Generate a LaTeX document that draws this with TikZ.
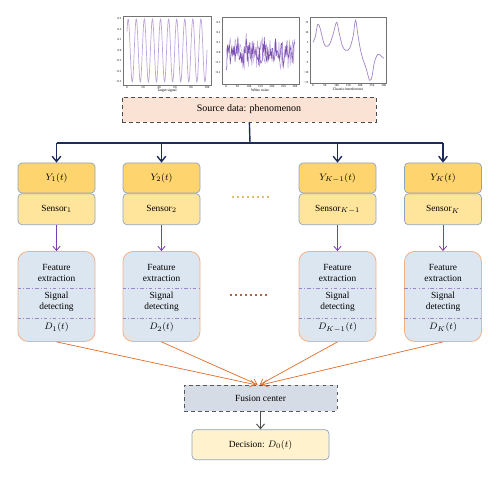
\documentclass[tikz,border=0pt]{standalone}
\usepackage{amsmath}
\usepackage{fontspec}
\setmainfont{Liberation Serif}
\usepackage{tikz}
\usetikzlibrary{positioning}
\usetikzlibrary{arrows.meta}

\definecolor{srcfill}{HTML}{FAE3D5}
\definecolor{obsfill}{HTML}{FDD46E}
\definecolor{senfill}{HTML}{FFE59C}
\definecolor{boxline}{HTML}{8FA3BF}
\definecolor{detfill}{HTML}{DCE6F1}
\definecolor{detline}{HTML}{F4B183}
\definecolor{fusfill}{HTML}{D6DCE5}
\definecolor{decfill}{HTML}{FFF2CC}
\definecolor{navy}{HTML}{1F2A5C}
\definecolor{violet-a}{HTML}{7A3FB0}
\definecolor{rust}{HTML}{E06C2A}
\definecolor{sepline}{HTML}{9A86C8}
\definecolor{plotlight}{HTML}{BDA5DC}
\definecolor{plotdark}{HTML}{7A4FB0}
\definecolor{dotgold}{HTML}{D9A441}
\definecolor{dotbrown}{HTML}{8B2A10}

\begin{document}
\begin{tikzpicture}
[
x=0.3mm, y=-0.3mm,
font=\fontsize{8}{9.2}\selectfont,
src-a/.style={draw=black!70, dashed, line width=0.6pt, fill=srcfill, minimum width=76.2mm, minimum height=7.5mm, font=\fontsize{8.5}{10}\selectfont},
obs-a/.style={draw=boxline, line width=0.6pt, fill=obsfill, rounded corners=1.2mm, minimum width=23.1mm, minimum height=9mm},
sen-a/.style={draw=boxline, line width=0.6pt, fill=senfill, rounded corners=1.2mm, minimum width=23.1mm, minimum height=9.3mm},
det-a/.style={draw=detline, line width=0.7pt, fill=detfill, rounded corners=3mm, minimum width=23.1mm, minimum height=27mm},
fus-a/.style={draw=black!65, dashed, line width=0.6pt, fill=fusfill, minimum width=45.9mm, minimum height=7.8mm},
dec-a/.style={draw=boxline, line width=0.6pt, fill=decfill, rounded corners=1.2mm, minimum width=41.1mm, minimum height=9mm},
text-a/.style={black, align=center, inner sep=0pt},
sep-a/.style={sepline, line width=0.5pt, dash dot},
top-a/.style={navy, line width=1.2pt},
frame-a/.style={black!55, line width=0.4pt},
tick-a/.style={font=\fontsize{2.6}{3}\selectfont, inner sep=0.3pt},
axis-a/.style={font=\fontsize{3.2}{3.6}\selectfont, inner sep=0pt},
dots-a/.style={line width=0.7mm, line cap=round, dash pattern=on 0pt off 1.5mm},
]
\useasboundingbox (0,0) rectangle (500,477);

% small plots of the source data
\draw [frame-a] (123,16) rectangle (211,85);
\foreach \v/\lab in {0.3/0.3, 0.2/0.2, 0.1/0.1, 0/0.0, -0.1/−0.1, -0.2/−0.2, -0.3/−0.3}
  \node [tick-a, anchor=east] at (122,{50.5-105*\v}) {\lab};
\foreach \v in {0,20,...,100}
  \node [tick-a, anchor=north] at ({127+0.8*\v},86) {\v};
\draw [plotlight, line width=0.6pt] plot[domain=0:100, samples=300, variable=\t] ({127+0.8*\t},{50.5-31.5*sin(37+35.64*\t)});
\node (p1) [axis-a] at (167,91) {Target signal};

\draw [frame-a] (222,17) rectangle (299,84);
\foreach \v/\lab in {0.3/0.3, 0.2/0.2, 0.1/0.1, 0/0.0, -0.1/−0.1, -0.2/−0.2}
  \node [tick-a, anchor=east] at (221,{53-100*\v}) {\lab};
\foreach \v in {0,50,...,300}
  \node [tick-a, anchor=north] at ({226+0.23*\v},85) {\v};
\pgfmathsetseed{11}
\draw [plotlight, line width=0.45pt] plot[domain=0:300, samples=100, variable=\t] ({226+0.23*\t},{53-14*rand-13*rand^3});
\pgfmathsetseed{5}
\draw [plotdark, line width=0.45pt] plot[domain=0:300, samples=100, variable=\t] ({226+0.23*\t},{53-11*rand-10*rand^3});
\node (p2) [axis-a] at (260,90) {White noise};

\draw [frame-a] (310,17) rectangle (386,83);
\foreach \v/\lab in {15/15, 10/10, 5/5, 0/0, -5/−5, -10/−10, -15/−15}
  \node [tick-a, anchor=east] at (309,{52.3-2*\v}) {\lab};
\foreach \v in {0,50,...,300}
  \node [tick-a, anchor=north] at ({313+0.236*\v},84) {\v};
\draw [plotdark!70, line width=0.6pt] plot[smooth, tension=0.6] coordinates {
  (313,42.3) (315.4,36.3) (317.7,24.3) (320.1,28.3) (323.6,42.3) (326,46.3)
  (329.5,44.3) (333.1,34.3) (336.6,22.3) (339,32.3) (342.5,46.3) (346,50.3)
  (349.6,48.3) (353.1,36.3) (355.5,20.3) (357.8,34.3) (360.2,48.3) (362.6,58.3)
  (366.1,68.3) (369.6,80.3) (372,76.3) (374.4,62.3) (377.9,54.3) (381.4,56.3) (383.8,58.3)};
\node (p3) [axis-a] at (348,89) {Chaotic interference};

% source and sensors
\node (src) [src-a] at (249,109.5) {Source data: phenomenon};

\node (y1) [obs-a] at (56.5,178)  {$Y_1(t)$};
\node (s1) [sen-a, below = 0mm of y1] {Sensor$_1$};
\node (y2) [obs-a] at (161.5,178) {$Y_2(t)$};
\node (s2) [sen-a, below = 0mm of y2] {Sensor$_2$};
\node (y3) [obs-a] at (337.5,178) {$Y_{K-1}(t)$};
\node (s3) [sen-a, below = 0mm of y3] {Sensor$_{K-1}$};
\node (y4) [obs-a] at (443,178)   {$Y_K(t)$};
\node (s4) [sen-a, below = 0mm of y4] {Sensor$_K$};

\coordinate (j0) at (250,143);
\coordinate (j1) at (56.5,143);
\coordinate (j4) at (443,143);
\draw [top-a] (src) -- (j0);
\draw [top-a] (j1) -- (j4);
\draw [top-a, -{Straight Barb[length=1.6mm, width=2.6mm]}] (j1) -- (y1);
\draw [top-a, -{Straight Barb[length=1.6mm, width=2.6mm]}] (j1 -| y2) -- (y2);
\draw [top-a, -{Straight Barb[length=1.6mm, width=2.6mm]}] (j1 -| y3) -- (y3);
\draw [top-a, -{Straight Barb[length=1.6mm, width=2.6mm]}] (j4) -- (y4);

% detectors
\node (f1) [det-a, below = 7.8mm of s1] {};
\node (f2) [det-a, below = 7.8mm of s2] {};
\node (f3) [det-a, below = 7.8mm of s3] {};
\node (f4) [det-a, below = 7.8mm of s4] {};
\foreach \i/\dl in {1/{D_1(t)}, 2/{D_2(t)}, 3/{D_{K-1}(t)}, 4/{D_K(t)}}
{
  \node (e\i) [text-a] at ([yshift=-6.6mm]f\i.north) {Feature\\extraction};
  \node (g\i) [text-a] at ([yshift=-15.1mm]f\i.north) {Signal\\detecting};
  \node (d\i) [text-a] at ([yshift=4.3mm]f\i.south) {$\dl$};
  \draw [sep-a] ([yshift=-11.1mm]f\i.north west) -- ([yshift=-11.1mm]f\i.north east);
  \draw [sep-a] ([yshift=-20.1mm]f\i.north west) -- ([yshift=-20.1mm]f\i.north east);
  \draw [violet-a, line width=0.7pt, -{Straight Barb[length=1.3mm, width=2.2mm]}] (s\i) -- (f\i);
}

\coordinate (k1) at (233,197);
\coordinate (k2) at (271,197);
\coordinate (k3) at (231,295);
\coordinate (k4) at (269,295);
\draw [dotgold, dots-a] (k1) -- (k2);
\draw [dotbrown, dots-a] (k3) -- (k4);

% fusion
\node (fc) [fus-a] at (260.5,398) {Fusion center};
\node (dec) [dec-a, below = 5.4mm of fc] {Decision: $D_0(t)$};
\draw [rust, line width=0.6pt, -{Straight Barb[length=1.4mm, width=2.2mm]}] (f1.south) -- ([xshift=-1.6mm]fc.north);
\draw [rust, line width=0.6pt, -{Straight Barb[length=1.4mm, width=2.2mm]}] (f2.south) -- ([xshift=-0.9mm]fc.north);
\draw [rust, line width=0.6pt, -{Straight Barb[length=1.4mm, width=2.2mm]}] (f3.south) -- ([xshift=-0.2mm]fc.north);
\draw [rust, line width=0.6pt, -{Straight Barb[length=1.4mm, width=2.2mm]}] (f4.south) -- ([xshift=0.5mm]fc.north);
\draw [black!70, line width=0.8pt, -{Straight Barb[length=1.4mm, width=2.4mm]}] (fc) -- (dec);
\end{tikzpicture}
\end{document}
